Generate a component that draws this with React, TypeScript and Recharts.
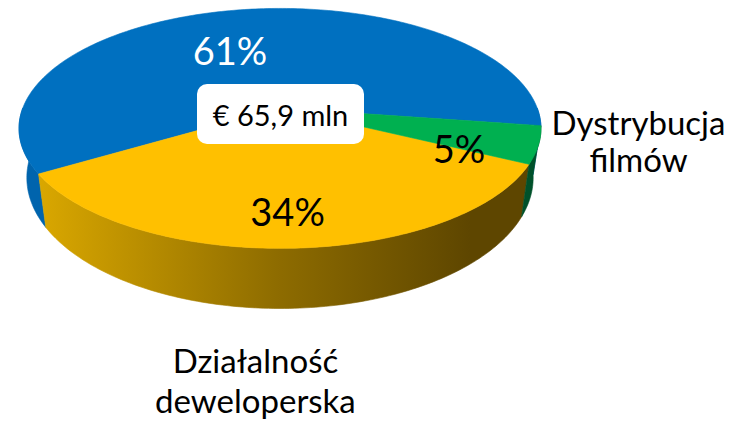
import React from 'react';
import { PieChart, Pie } from 'recharts';

// ---- data ----
const categories = ['', 'Działalność deweloperska', 'Dystrybucja filmów'];
const nameLines = [[], ['Działalność', 'deweloperska'], ['Dystrybucja', 'filmów']];
const shares = [61, 34, 5];
const totalLabel = '€ 65,9 mln';

const data = categories.map((name, i) => ({ name, value: shares[i] }));

// ---- styles ----
const topColors = ['#0070C0', '#FFC000', '#00B050'];
const wallColors = ['#0064AD', 'url(#yellowWall)', '#00512A'];
const pctColors = ['#FFFFFF', '#000000', '#000000'];
const FONT = 'Lato, "Open Sans", sans-serif';

// perspective parameters for the tilted disc
const TILT = 0.17; // perspective strength
const YSCALE = 116.5 / 257.2; // vertical squash
const BOT_KX = 0.97;
const BOT_KY = 1.09;
const DEPTH = 47.5;

// label placement in disc space: [radius fraction, angle offset]
const pctSpot: [number, number][] = [[0.584, 10], [0.772, -0.4], [0.734, -9]];

function proj(cx: number, cy: number, r: number, deg: number, f = 1, bottom = false): [number, number] {
  const t = (deg * Math.PI) / 180;
  const c = Math.cos(t) * f;
  const s = Math.sin(t) * f;
  const w = 1 + TILT * s;
  const kx = bottom ? BOT_KX : 1;
  const ky = bottom ? BOT_KY : 1;
  const dy = bottom ? DEPTH : 0;
  return [cx + (kx * r * c) / w, cy + dy - (ky * r * YSCALE * s) / w];
}

function arcPts(cx: number, cy: number, r: number, a0: number, a1: number, bottom: boolean) {
  const pts: [number, number][] = [];
  const n = Math.max(2, Math.ceil(Math.abs(a1 - a0) / 1));
  for (let i = 0; i <= n; i++) {
    pts.push(proj(cx, cy, r, a0 + ((a1 - a0) * i) / n, 1, bottom));
  }
  return pts;
}

function toPath(pts: [number, number][]) {
  return pts.map((p, i) => `${i === 0 ? 'M' : 'L'}${p[0].toFixed(2)},${p[1].toFixed(2)}`).join(' ') + ' Z';
}

function frontRanges(s: number, e: number) {
  const out: [number, number][] = [];
  for (const base of [-180, 180, 540]) {
    const lo = Math.max(s, base);
    const hi = Math.min(e, base + 180);
    if (hi > lo) out.push([lo, hi]);
  }
  return out;
}

const renderWall = (props: any) => {
  const { cx, cy, outerRadius, startAngle, endAngle, index } = props;
  const s = Math.min(startAngle, endAngle);
  const e = Math.max(startAngle, endAngle);
  const paths = frontRanges(s, e).map(([lo, hi], k) => {
    const top = arcPts(cx, cy, outerRadius, lo, hi, false);
    const bot = arcPts(cx, cy, outerRadius, hi, lo, true);
    return <path key={k} d={toPath([...top, ...bot])} fill={wallColors[index]} stroke={wallColors[index]} strokeWidth={0.6} />;
  });
  return (
    <g key={`wall-${index}`}>
      {index === 1 && (
        <defs>
          <linearGradient id="yellowWall" gradientUnits="userSpaceOnUse" x1={40} y1={0} x2={470} y2={0}>
            <stop offset="0" stopColor="#D9A700" />
            <stop offset="0.55" stopColor="#8E6C00" />
            <stop offset="1" stopColor="#5E4600" />
          </linearGradient>
        </defs>
      )}
      {paths}
    </g>
  );
};

const renderTop = (props: any) => {
  const { cx, cy, outerRadius, startAngle, endAngle, index, percent } = props;
  const s = Math.min(startAngle, endAngle);
  const e = Math.max(startAngle, endAngle);
  const rim = arcPts(cx, cy, outerRadius, s, e, false);
  const d = toPath([[cx, cy], ...rim]);
  const mid = (s + e) / 2;
  const [f, da] = pctSpot[index];
  const [lx, ly] = proj(cx, cy, outerRadius, mid + da, f);
  const [rx, ry] = proj(cx, cy, outerRadius, mid, 1);
  const lines = nameLines[index];
  let nameEl = null;
  if (lines.length) {
    const isBottom = ry > cy + 60;
    const nx = isBottom ? rx - 37 : rx + 100;
    const ny0 = isBottom ? ry + 125 : ry - 10;
    const gap = isBottom ? 40 : 37;
    nameEl = (
      <g>
        {lines.map((ln, i) => (
          <text key={i} x={nx} y={ny0 + i * gap} textAnchor="middle" fontFamily={FONT} fontSize={33} fill="#000">
            {ln}
          </text>
        ))}
      </g>
    );
  }
  return (
    <g key={`top-${index}`}>
      <path d={d} fill={topColors[index]} stroke={topColors[index]} strokeWidth={0.6} />
      <text x={lx} y={ly} textAnchor="middle" dominantBaseline="central" fontFamily={FONT} fontSize={38} fill={pctColors[index]}>
        {`${Math.round(percent * 100)}%`}
      </text>
      {nameEl}
    </g>
  );
};

export default function App() {
  return (
    <div style={{ position: 'relative', width: 740, height: 422, background: '#fff' }}>
      <style>{`body{margin:0;}`}</style>
      <PieChart width={740} height={422} margin={{ top: 0, right: 0, bottom: 0, left: 0 }}>
        <Pie
          data={data}
          dataKey="value"
          nameKey="name"
          cx={280}
          cy={108}
          outerRadius={257.2}
          startAngle={-8.5}
          endAngle={351.5}
          fill="transparent"
          stroke="none"
          labelLine={false}
          label={renderWall}
          isAnimationActive={false}
        />
        <Pie
          data={data}
          dataKey="value"
          nameKey="name"
          cx={280}
          cy={108}
          outerRadius={257.2}
          startAngle={-8.5}
          endAngle={351.5}
          fill="transparent"
          stroke="none"
          labelLine={false}
          label={renderTop}
          isAnimationActive={false}
        />
      </PieChart>
      <div
        style={{
          position: 'absolute',
          left: 197,
          top: 84,
          width: 167,
          height: 60,
          borderRadius: 10,
          background: '#fff',
          display: 'flex',
          alignItems: 'center',
          justifyContent: 'center',
          fontFamily: FONT,
          fontSize: 29,
          color: '#000',
          lineHeight: 1,
        }}
      >
        {totalLabel}
      </div>
    </div>
  );
}
